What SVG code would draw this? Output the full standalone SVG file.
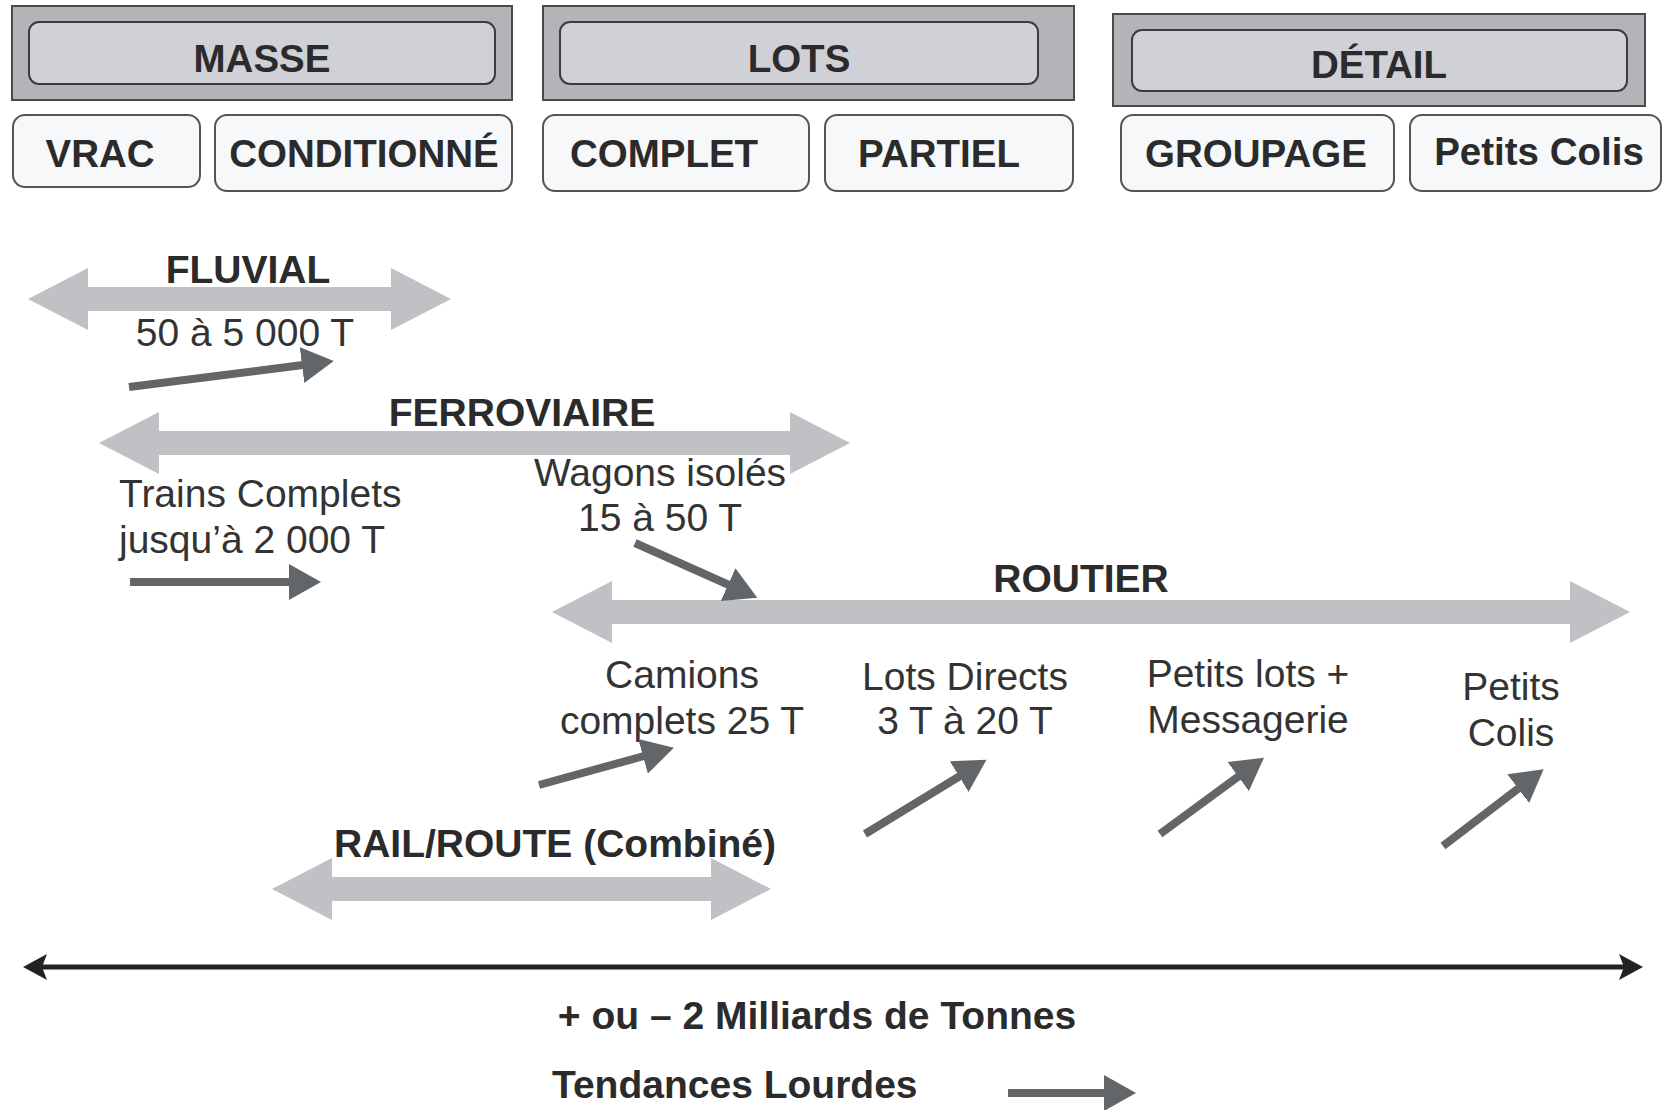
<svg xmlns="http://www.w3.org/2000/svg" width="1664" height="1110" viewBox="0 0 1664 1110">
<style>
.outer{fill:#b3b4b8;stroke:#4a4a4a;stroke-width:2}
.inner{fill:#d0d1d6;stroke:#3c3c3c;stroke-width:2}
.cell{fill:#f7f8fa;stroke:#555;stroke-width:2}
.b{font-family:"Liberation Sans",Arial,sans-serif;font-weight:bold;font-size:39px;fill:#2b2b2b}
.h{font-size:38.5px}
.r{font-family:"Liberation Sans",Arial,sans-serif;font-size:39px;fill:#333}
.m{text-anchor:middle}
.band{fill:#c0c1c5}
.trend{stroke:#636669;stroke-width:8;fill:none;marker-end:url(#head)}
</style>
<defs>
<marker id="head" markerUnits="userSpaceOnUse" markerWidth="34" markerHeight="36" refX="1" refY="18" orient="auto">
<path d="M0,0 L32,18 L0,36 z" fill="#636669"/>
</marker>
</defs>

<g id="masse">
<rect class="outer" x="12" y="6" width="500" height="94"/>
<rect class="inner" x="29" y="22" width="466" height="62" rx="10"/>
<text class="b h m" x="262" y="72">MASSE</text>
</g>
<g id="vrac">
<rect class="cell" x="13" y="115" width="187" height="72" rx="12"/>
<text class="b h m" x="100" y="167">VRAC</text>
</g>
<g id="conditionne">
<rect class="cell" x="215" y="115" width="297" height="76" rx="12"/>
<text class="b h m" x="364" y="167">CONDITIONNÉ</text>
</g>
<g id="lots">
<rect class="outer" x="543" y="6" width="531" height="94"/>
<rect class="inner" x="560" y="22" width="478" height="62" rx="10"/>
<text class="b h m" x="799" y="72">LOTS</text>
</g>
<g id="complet">
<rect class="cell" x="543" y="115" width="266" height="76" rx="12"/>
<text class="b h m" x="664" y="167">COMPLET</text>
</g>
<g id="partiel">
<rect class="cell" x="825" y="115" width="248" height="76" rx="12"/>
<text class="b h m" x="939" y="167">PARTIEL</text>
</g>
<g id="detail">
<rect class="outer" x="1113" y="14" width="532" height="92"/>
<rect class="inner" x="1132" y="30" width="495" height="61" rx="10"/>
<text class="b h m" x="1379" y="78">DÉTAIL</text>
</g>
<g id="groupage">
<rect class="cell" x="1121" y="115" width="273" height="76" rx="12"/>
<text class="b h m" x="1256" y="167">GROUPAGE</text>
</g>
<g id="petits-colis">
<rect class="cell" x="1410" y="115" width="251" height="76" rx="12"/>
<text class="b h m" x="1539" y="165">Petits Colis</text>
</g>

<g id="fluvial">
<polygon class="band" points="28,299 88,268 88,287 391,287 391,268 451,299 391,330 391,311 88,311 88,330"/>
<text class="b m" x="248" y="283">FLUVIAL</text>
<text class="r m" x="245" y="346">50 à 5 000 T</text>
</g>
<g id="ferroviaire">
<polygon class="band" points="99,443 159,412 159,431 790,431 790,412 850,443 790,474 790,455 159,455 159,474"/>
<text class="b m" x="522" y="426">FERROVIAIRE</text>
<text class="r" x="119" y="507">Trains Complets</text>
<text class="r" x="119" y="553">jusqu’à 2 000 T</text>
<text class="r m" x="660" y="486">Wagons isolés</text>
<text class="r m" x="660" y="531">15 à 50 T</text>
</g>
<g id="routier">
<polygon class="band" points="552,612 612,581 612,600 1570,600 1570,581 1630,612 1570,643 1570,624 612,624 612,643"/>
<text class="b m" x="1081" y="592">ROUTIER</text>
<text class="r m" x="682" y="688">Camions</text>
<text class="r m" x="682" y="734">complets 25 T</text>
<text class="r m" x="965" y="690">Lots Directs</text>
<text class="r m" x="965" y="734">3 T à 20 T</text>
<text class="r m" x="1248" y="687">Petits lots +</text>
<text class="r m" x="1248" y="733">Messagerie</text>
<text class="r m" x="1511" y="700">Petits</text>
<text class="r m" x="1511" y="746">Colis</text>
</g>
<g id="rail-route">
<polygon class="band" points="272,889 332,858 332,877 711,877 711,858 771,889 711,920 711,901 332,901 332,920"/>
<text class="b m" x="555" y="857">RAIL/ROUTE (Combiné)</text>
</g>
<g id="axis">
<line x1="42" y1="967" x2="1624" y2="967" stroke="#222" stroke-width="5"/>
<polygon points="23,967 47,954 42,967 47,980" fill="#222"/>
<polygon points="1643,967 1619,954 1624,967 1619,980" fill="#222"/>
<text class="b m" x="817" y="1029">+ ou – 2 Milliards de Tonnes</text>
<text class="b" x="552" y="1098">Tendances Lourdes</text>
</g>

<g id="connectors">
<line class="trend" x1="129" y1="387" x2="303" y2="365"/>
<line class="trend" x1="130" y1="582" x2="290" y2="582"/>
<line class="trend" x1="635" y1="543" x2="729" y2="585"/>
<line class="trend" x1="539" y1="785" x2="644" y2="756"/>
<line class="trend" x1="865" y1="834" x2="960" y2="776"/>
<line class="trend" x1="1160" y1="834" x2="1239" y2="776"/>
<line class="trend" x1="1443" y1="846" x2="1519" y2="788"/>
<line class="trend" x1="1008" y1="1093" x2="1105" y2="1093"/>
</g>
</svg>
